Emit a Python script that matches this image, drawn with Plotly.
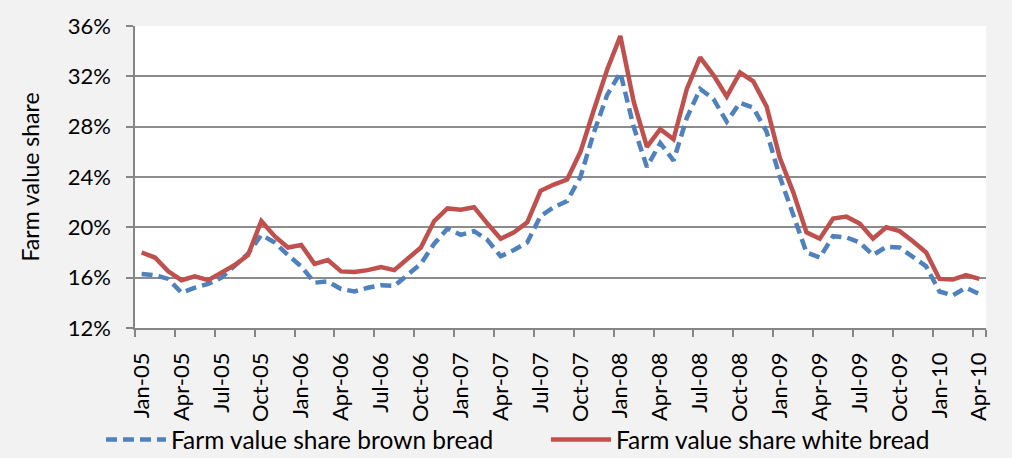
import plotly.graph_objects as go

months = []
for yy in range(5, 11):
    for m in ["Jan", "Feb", "Mar", "Apr", "May", "Jun", "Jul", "Aug", "Sep", "Oct", "Nov", "Dec"]:
        months.append(f"{m}-{yy:02d}")
months = months[:64]  # Jan-05 .. Apr-10

brown_bread = [16.3, 16.2, 15.9, 14.8, 15.2, 15.5, 16.0, 16.9, 17.9, 19.4, 18.8, 17.8,
               16.9, 15.6, 15.7, 15.1, 14.9, 15.2, 15.4, 15.35, 16.2, 17.1, 18.7, 19.9,
               19.4, 19.7, 19.0, 17.7, 18.2, 18.8, 20.9, 21.6, 22.1, 24.0, 27.5, 30.5,
               32.3, 28.0, 24.8, 26.7, 25.3, 28.7, 31.0, 30.2, 28.4, 29.9, 29.5, 27.6,
               24.0, 20.9, 18.0, 17.6, 19.3, 19.2, 18.8, 17.8, 18.45, 18.4, 17.7, 16.9,
               14.9, 14.6, 15.2, 14.7]

white_bread = [18.0, 17.6, 16.5, 15.8, 16.1, 15.8, 16.4, 17.0, 17.8, 20.5, 19.3, 18.4,
               18.6, 17.1, 17.4, 16.5, 16.45, 16.6, 16.85, 16.6, 17.5, 18.4, 20.5, 21.5,
               21.4, 21.6, 20.3, 19.1, 19.6, 20.4, 22.9, 23.4, 23.8, 26.0, 29.3, 32.5,
               35.2, 30.0, 26.4, 27.8, 27.0, 31.0, 33.5, 32.1, 30.4, 32.3, 31.6, 29.6,
               25.5, 22.8, 19.6, 19.1, 20.7, 20.85, 20.3, 19.1, 20.0, 19.7, 18.9, 18.0,
               15.9, 15.85, 16.2, 15.9]

tick_labels = months[::3]
y_ticks = [12, 16, 20, 24, 28, 32, 36]

FONT = "Lato"

fig = go.Figure()
fig.add_trace(go.Scatter(
    x=months, y=brown_bread, mode="lines",
    name="Farm value share brown bread",
    line=dict(color="#4F81BD", width=4.5, dash="11px,6px"),
    legend="legend",
))
fig.add_trace(go.Scatter(
    x=months, y=white_bread, mode="lines",
    name="Farm value share white bread",
    line=dict(color="#C0504D", width=4.5),
    legend="legend2",
))

leg_common = dict(
    orientation="h",
    xref="container", yref="container",
    y=0.04, xanchor="left", yanchor="middle",
    font=dict(family=FONT, size=24.5),
    bgcolor="rgba(0,0,0,0)",
    itemwidth=60,
)

fig.update_layout(
    width=1012, height=458,
    margin=dict(l=135, r=26, t=26, b=130, autoexpand=False),
    paper_bgcolor="#F2F2F2",
    plot_bgcolor="#FFFFFF",
    font=dict(family=FONT, size=22, color="#000000"),
    showlegend=True,
    legend=dict(x=0.0998, **leg_common),
    legend2=dict(x=0.5395, **leg_common),
)

fig.update_xaxes(
    type="category",
    range=[-0.5, 63.5],
    tickmode="array",
    tickvals=tick_labels,
    ticktext=tick_labels,
    tickangle=-90,
    tickson="boundaries",
    ticks="outside", ticklen=7, tickwidth=1.5, tickcolor="#868686",
    ticklabelstandoff=14,
    showline=True, linecolor="#868686", linewidth=1.5,
    showgrid=False,
    tickfont=dict(family=FONT, size=22),
)

fig.update_yaxes(
    range=[12, 36],
    tickmode="array",
    tickvals=y_ticks,
    ticktext=[f"{v}%" for v in y_ticks],
    ticks="outside", ticklen=7, tickwidth=1.5, tickcolor="#868686",
    ticklabelstandoff=11,
    showline=True, linecolor="#868686", linewidth=1.5,
    showgrid=True, gridcolor="#8C8C8C", gridwidth=2,
    zeroline=False,
    tickfont=dict(family=FONT, size=22),
    title=dict(text="Farm value share", font=dict(family=FONT, size=23), standoff=22),
)

fig.write_html("out.html", config={"displayModeBar": False},
               post_script="document.body.style.margin='0';")
